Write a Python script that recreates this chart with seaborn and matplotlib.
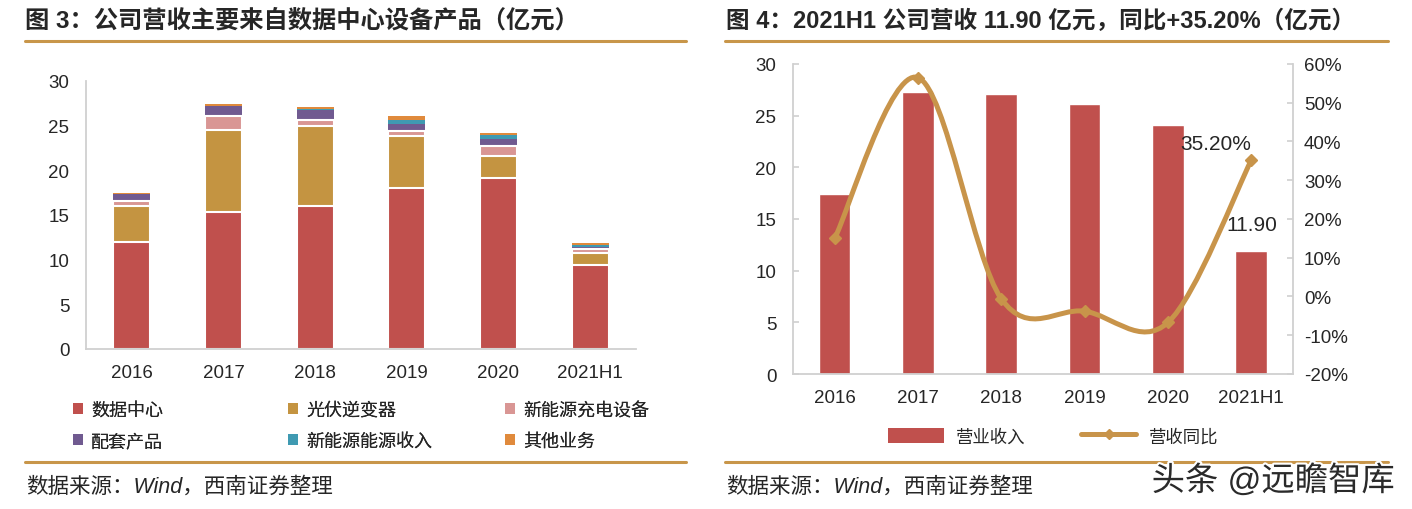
import numpy as np
import pandas as pd
import seaborn as sns
import matplotlib.pyplot as plt
from matplotlib.lines import Line2D
from matplotlib.patches import Patch, PathPatch
from matplotlib.path import Path
import matplotlib.patheffects as pe
from matplotlib.ticker import FuncFormatter

# data
periods = ['2016', '2017', '2018', '2019', '2020', '2021H1']
data_center = [12.0, 15.35, 16.0, 18.0, 19.15, 9.45]
pv_inverter = [4.0, 9.2, 9.0, 5.8, 2.5, 1.35]
ev_charging = [0.6, 1.5, 0.6, 0.6, 1.1, 0.35]
accessories = [0.7, 1.1, 1.1, 0.8, 0.8, 0.25]
new_energy = [0.0, 0.0, 0.2, 0.45, 0.45, 0.22]
other_biz = [0.2, 0.25, 0.2, 0.45, 0.2, 0.2]
seg_names = ['数据中心', '光伏逆变器', '新能源充电设备', '配套产品', '新能源能源收入', '其他业务']

revenue = [17.4, 27.3, 27.05, 26.1, 24.1, 11.9]
yoy = [15.0, 56.5, -0.6, -3.8, -6.7, 35.2]

colors = ['#C0504D', '#C49441', '#D99694', '#705A90', '#3F9AB2', '#E08A3C']
gold = '#C8944A'
rule = '#C8964A'
grey = '#D0D0D0'

sns.set_theme(style='white')
plt.rcParams['font.family'] = ['Liberation Sans', 'Noto Sans CJK SC']

W, H = 1412, 510
fig = plt.figure(figsize=(W / 100, H / 100), dpi=100)

def fx(px):
    return px / W

def fy(py):
    return 1 - py / H

TICK = 13.5

# ---------------- left chart: stacked bars ----------------
ax1 = fig.add_axes([fx(86), fy(350), fx(636 - 86), fy(82) - fy(350)])
segs = [data_center, pv_inverter, ev_charging, accessories, new_energy, other_biz]
df = pd.DataFrame({'period': periods})
cum = np.zeros(len(periods))
for name, vals in zip(seg_names, segs):
    cum = cum + np.array(vals)
    df[name] = cum
# overlay cumulative totals, tallest first
for i in reversed(range(len(seg_names))):
    sep = i < 3
    sns.barplot(data=df, x='period', y=seg_names[i], color=colors[i], width=0.4,
                saturation=1, errorbar=None, ax=ax1,
                edgecolor='white' if sep else 'none', linewidth=1.5 if sep else 0)

ax1.set_ylim(0, 30)
ax1.set_yticks(range(0, 31, 5))
ax1.set_xlim(-0.5, len(periods) - 0.5)
ax1.set_xlabel('')
ax1.set_ylabel('')

# ---------------- right chart: bars + smoothed growth line ----------------
ax2 = fig.add_axes([fx(793), fy(375), fx(1293 - 793), fy(65) - fy(375)])
rdf = pd.DataFrame({'period': periods, 'revenue': revenue})
sns.barplot(data=rdf, x='period', y='revenue', color=colors[0], width=0.38,
            saturation=1, errorbar=None, ax=ax2)
ax2.set_ylim(0, 30)
ax2.set_yticks(range(0, 31, 5))
ax2.set_xlim(-0.5, len(periods) - 0.5)
ax2.set_xlabel('')
ax2.set_ylabel('')

ax3 = ax2.twinx()
xs = np.arange(len(periods), dtype=float)
ys = np.array(yoy, dtype=float)
n = len(xs)
verts = [(xs[0], ys[0])]
codes = [Path.MOVETO]
for i in range(n - 1):
    a = max(i - 1, 0)
    b = min(i + 2, n - 1)
    c1 = (xs[i] + (xs[i + 1] - xs[a]) / 6, ys[i] + (ys[i + 1] - ys[a]) / 6)
    c2 = (xs[i + 1] - (xs[b] - xs[i]) / 6, ys[i + 1] - (ys[b] - ys[i]) / 6)
    verts += [c1, c2, (xs[i + 1], ys[i + 1])]
    codes += [Path.CURVE4] * 3
ax3.add_patch(PathPatch(Path(verts, codes), facecolor='none', edgecolor=gold,
                        lw=3.6, capstyle='round', joinstyle='round'))
ax3.plot(xs, ys, linestyle='none', marker='D', ms=6.5, color=gold)
ax3.set_ylim(-20, 60)
ax3.set_yticks(range(-20, 61, 10))
ax3.yaxis.set_major_formatter(FuncFormatter(lambda v, p: f'{v:.0f}%'))

ax3.annotate(f'{yoy[-1]:.2f}%', (xs[-1], ys[-1]), xytext=(-26, 5),
             textcoords='offset points', ha='center', va='bottom', fontsize=15)
ax2.annotate(f'{revenue[-1]:.2f}', (xs[-1], revenue[-1]), xytext=(0, 12),
             textcoords='offset points', ha='center', va='bottom', fontsize=15)

# axis styling
for ax in (ax1, ax2, ax3):
    for s in ax.spines.values():
        s.set_visible(False)
    ax.tick_params(axis='y', direction='in', length=4, color=grey, width=1.2,
                   labelsize=TICK, pad=12)
    ax.tick_params(axis='x', length=0, labelsize=TICK, pad=11)
for ax in (ax1, ax2):
    ax.spines['left'].set_visible(True)
    ax.spines['bottom'].set_visible(True)
    ax.set_xticks(np.arange(-0.5, len(periods), 1), minor=True)
    ax.tick_params(axis='x', which='minor', direction='in', length=4, color=grey, width=1.2)
ax3.spines['right'].set_visible(True)
ax3.tick_params(axis='y', pad=8)
for ax in (ax1, ax2, ax3):
    for s in ax.spines.values():
        s.set_color(grey)
        s.set_linewidth(1.3)

# legends
ncol_items = [[0, 3], [1, 4], [2, 5]]
col_x = [73, 288, 505]
for cx, idx in zip(col_x, ncol_items):
    hs = [Patch(facecolor=colors[k], edgecolor='none') for k in idx]
    lg = fig.legend(hs, [seg_names[k] for k in idx], loc='upper left',
                    bbox_to_anchor=(fx(cx), fy(403)), frameon=False, fontsize=13,
                    handlelength=0.55, handleheight=0.55, handletextpad=0.45,
                    labelspacing=0.78, borderaxespad=0, borderpad=0)
    fig.add_artist(lg)

h_bar = Patch(facecolor=colors[0], edgecolor='none')
h_line = Line2D([], [], color=gold, lw=3.6, marker='D', ms=5, solid_capstyle='round')
fig.legend([h_bar, h_line], ['营业收入', '营收同比'], loc='center left',
           bbox_to_anchor=(fx(888), fy(437)), frameon=False, ncol=2, fontsize=12.5,
           handlelength=3.2, handleheight=1.0, handletextpad=0.7, columnspacing=3.2,
           borderaxespad=0, borderpad=0)

# titles, rules, sources
fig.text(fx(25), fy(21), '图 3：公司营收主要来自数据中心设备产品（亿元）', fontsize=17.5,
         fontweight='bold', va='center', ha='left')
fig.text(fx(726), fy(21), '图 4：2021H1 公司营收 11.90 亿元，同比+35.20%（亿元）', fontsize=17,
         fontweight='bold', va='center', ha='left')
for x0, x1 in [(25, 686), (725, 1388)]:
    for yy in (42, 463):
        fig.add_artist(Line2D([fx(x0), fx(x1)], [fy(yy), fy(yy)], color=rule, lw=2.2))
    fig.text(fx(x0 + 1), fy(487), '数据来源：Wind，西南证券整理', fontsize=15.5,
             style='italic', va='center', ha='left')

fig.text(fx(1395), fy(482), '头条 @远瞻智库', fontsize=24, color='#2A2A2A',
         ha='right', va='center',
         path_effects=[pe.withStroke(linewidth=3, foreground='white')])

fig.savefig('out.png', dpi=100)
